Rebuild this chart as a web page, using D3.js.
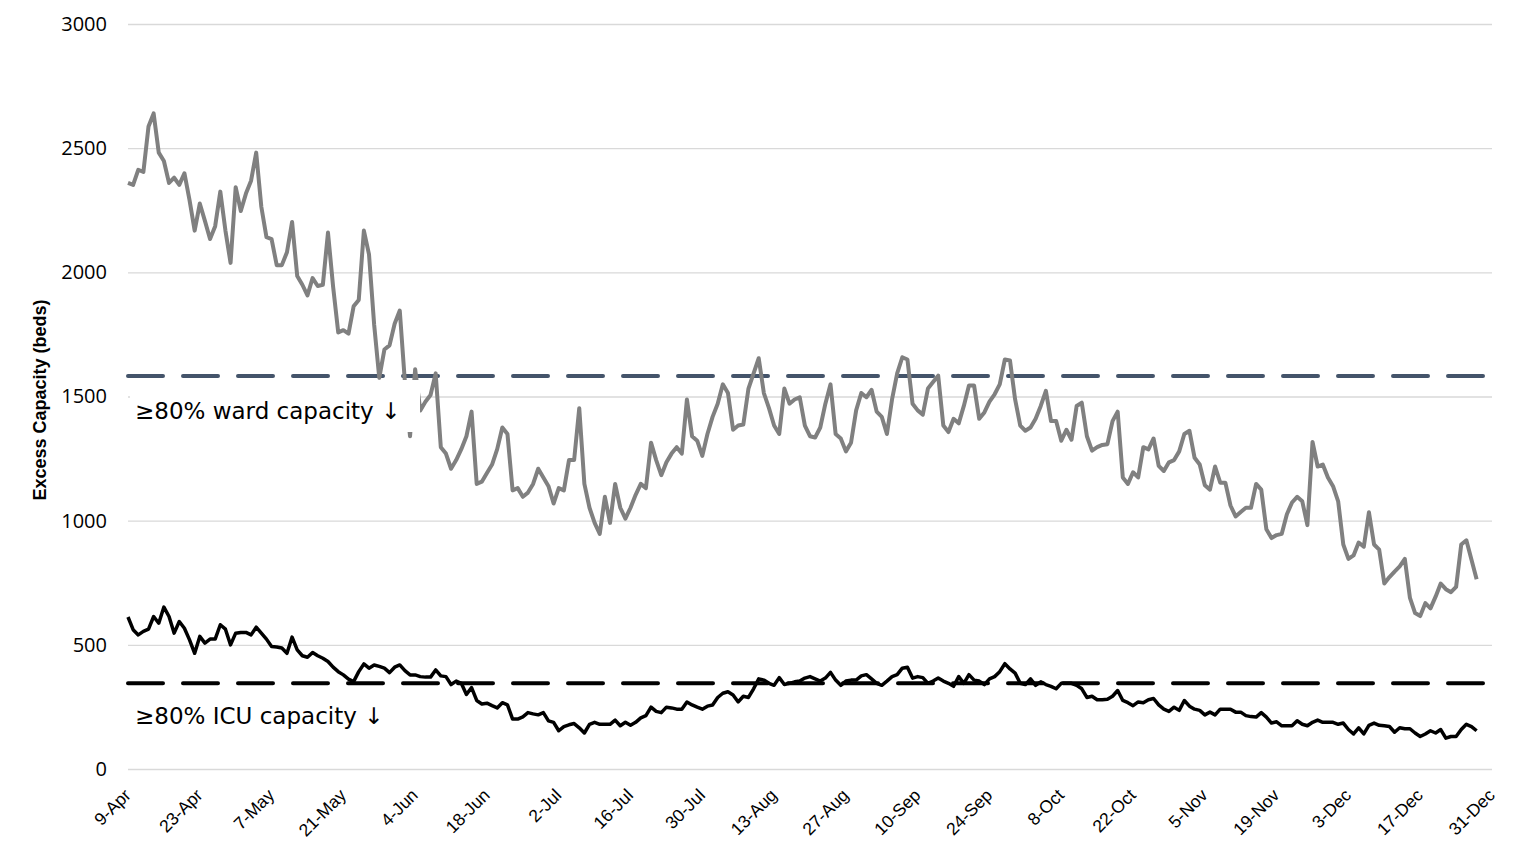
<!DOCTYPE html>
<meta charset="utf-8">
<script src="https://d3js.org/d3.v7.min.js"></script>
<style>
  body { margin: 0; background: #ffffff; }
</style>

<!-- Create a div where the graph will take place -->
<div id="my_dataviz"></div>

<script>

  // tick labels on the date axis (every 14 days)
  var tickLabels = ["9-Apr", "23-Apr", "7-May", "21-May", "4-Jun", "18-Jun", "2-Jul", "16-Jul",
    "30-Jul", "13-Aug", "27-Aug", "10-Sep", "24-Sep", "8-Oct", "22-Oct", "5-Nov", "19-Nov",
    "3-Dec", "17-Dec", "31-Dec"];
  var year = "2020";
  var firstDay = "9-Apr";
  var yTicks = [0, 500, 1000, 1500, 2000, 2500, 3000];

  // daily excess ward beds, starting 9-Apr
  var wardExcess = [
    2360, 2352, 2413, 2404, 2587, 2640, 2482, 2448, 2360, 2381,
    2352, 2399, 2291, 2168, 2277, 2207, 2134, 2186, 2325, 2168,
    2038, 2343, 2247, 2317, 2369, 2482, 2264, 2142, 2134, 2029,
    2029, 2081, 2203, 1985, 1950, 1907, 1977, 1945, 1950, 2160,
    1942, 1758, 1767, 1753, 1863, 1889, 2168, 2072, 1790, 1575,
    1689, 1706, 1793, 1846, 1558, 1340, 1610, 1444, 1479, 1506,
    1593, 1296, 1270, 1209, 1244, 1288, 1340, 1439, 1148, 1157,
    1192, 1226, 1288, 1375, 1349, 1122, 1131, 1096, 1113, 1148,
    1209, 1174, 1139, 1069, 1131, 1122, 1244, 1244, 1453, 1148,
    1052, 991, 947, 1096, 991, 1148, 1052, 1008, 1052, 1104,
    1148, 1131, 1314, 1244, 1183, 1235, 1270, 1296, 1270, 1488,
    1340, 1322, 1261, 1349, 1418, 1471, 1549, 1514, 1366, 1383,
    1387, 1532, 1593, 1654, 1514, 1453, 1383, 1349, 1532, 1471,
    1488, 1497, 1383, 1340, 1335, 1375, 1471, 1549, 1349, 1331,
    1279, 1314, 1444, 1514, 1497, 1527, 1439, 1418, 1349, 1488,
    1593, 1658, 1649, 1471, 1444, 1427, 1532, 1558, 1584, 1383,
    1357, 1410, 1392, 1462, 1544, 1544, 1410, 1436, 1479, 1509,
    1549, 1649, 1645, 1488, 1383, 1362, 1375, 1410, 1462, 1523,
    1401, 1401, 1322, 1366, 1326, 1462, 1475, 1340, 1282, 1296,
    1305, 1308, 1401, 1439, 1174, 1148, 1195, 1174, 1296, 1287,
    1331, 1221, 1200, 1235, 1244, 1279, 1349, 1362, 1253, 1226,
    1143, 1125, 1218, 1153, 1153, 1061, 1017, 1035, 1052, 1052,
    1148, 1125, 965, 930, 942, 947, 1026, 1073, 1096, 1078,
    982, 1317, 1218, 1226, 1174, 1139, 1078, 904, 846, 860,
    912, 895, 1034, 904, 883, 747, 773, 795, 816, 846,
    689, 628, 616, 668, 647, 694, 747, 724, 712, 733,
    904, 921, 843, 764
  ];

  // daily excess ICU beds, starting 9-Apr
  var icuExcess = [
    612, 561, 540, 554, 563, 614, 587, 652, 614, 547,
    594, 567, 520, 466, 534, 507, 523, 523, 581, 563,
    500, 547, 550, 550, 540, 571, 547, 523, 493, 491,
    487, 466, 531, 480, 456, 450, 469, 456, 446, 433,
    410, 392, 379, 362, 352, 392, 423, 406, 419, 413,
    406, 388, 410, 419, 396, 379, 379, 372, 370, 370,
    399, 375, 372, 340, 354, 345, 300, 328, 276, 262,
    265, 255, 246, 267, 258, 201, 201, 210, 227, 222,
    218, 227, 194, 188, 154, 171, 178, 183, 166, 145,
    180, 188, 180, 180, 180, 197, 174, 188, 176, 188,
    206, 215, 249, 232, 227, 249, 246, 241, 241, 270,
    258, 249, 241, 253, 258, 288, 305, 311, 298, 270,
    293, 288, 323, 363, 358, 345, 337, 368, 340, 345,
    351, 354, 366, 372, 363, 354, 366, 389, 358, 337,
    354, 358, 358, 375, 380, 363, 345, 337, 354, 372,
    380, 406, 410, 366, 372, 368, 345, 354, 366, 354,
    345, 333, 372, 345, 380, 358, 354, 340, 363, 372,
    392, 424, 403, 386, 345, 340, 363, 337, 351, 340,
    333, 323, 345, 345, 345, 337, 323, 288, 293, 279,
    279, 281, 293, 316, 276, 267, 255, 270, 267, 279,
    284, 258, 241, 232, 249, 236, 276, 253, 241, 236,
    218, 229, 218, 241, 241, 241, 229, 229, 215, 211,
    209, 227, 209, 185, 190, 174, 174, 174, 194, 180,
    174, 188, 197, 188, 188, 188, 180, 185, 159, 141,
    166, 141, 176, 185, 176, 174, 171, 148, 166, 162,
    162, 145, 131, 141, 154, 145, 159, 124, 131, 131,
    159, 180, 171, 154
  ];

  // 80% occupancy thresholds
  var wardThreshold = 1583;
  var icuThreshold = 345;
  var wardNote = "\u226580% ward capacity \u2193";
  var icuNote = "\u226580% ICU capacity \u2193";

  // set the dimensions and margins of the graph
  var W = 1532, H = 867;
  var margin = { top: 24, right: 40, bottom: 98, left: 128 },
    width = W - margin.left - margin.right,
    height = H - margin.top - margin.bottom;

  var svg = d3.select("#my_dataviz")
    .append("svg")
    .attr("width", W)
    .attr("height", H)
    .append("g")
    .attr("transform", "translate(" + margin.left + "," + margin.top + ")");

  var parse = d3.timeParse("%d-%b-%Y");
  var start = parse(firstDay + "-" + year);
  var tickDates = tickLabels.map(function (l) { return parse(l + "-" + year); });

  var x = d3.scaleTime()
    .domain([tickDates[0], tickDates[tickDates.length - 1]])
    .range([0, width]);
  var y = d3.scaleLinear().domain([0, 3000]).range([height, 0]);

  // gridlines + y labels
  var yAxis = svg.append("g")
    .call(d3.axisLeft(y).tickValues(yTicks).tickSize(-width).tickPadding(21)
      .tickFormat(d3.format("d")));
  yAxis.select(".domain").remove();
  yAxis.selectAll("line").attr("stroke", "#d9d9d9").attr("stroke-width", 1.3);
  yAxis.selectAll("text")
    .attr("fill", "#000")
    .style("font-family", "Open Sans, DejaVu Sans, sans-serif")
    .style("font-size", "20px");

  // x axis with rotated labels
  var xAxis = svg.append("g")
    .attr("transform", "translate(0," + height + ")")
    .call(d3.axisBottom(x).tickValues(tickDates).tickSize(0)
      .tickFormat(function (d, i) { return tickLabels[i]; }));
  xAxis.select(".domain").remove();
  xAxis.selectAll("text")
    .attr("fill", "#000")
    .attr("y", 0).attr("dy", "0.35em")
    .attr("text-anchor", "end")
    .attr("transform", "translate(-1,23) rotate(-45)")
    .style("font-family", "Liberation Sans, Arial, sans-serif")
    .style("font-size", "17.5px");

  // y axis title
  svg.append("text")
    .attr("transform", "translate(" + (46 - margin.left) + "," + (400 - margin.top) + ") rotate(-90)")
    .attr("text-anchor", "middle")
    .style("font-family", "Liberation Sans, Arial, sans-serif")
    .style("font-weight", "bold")
    .style("font-size", "18px")
    .text("Excess Capacity (beds)");

  // threshold lines
  function threshold(v, color) {
    svg.append("line")
      .attr("x1", 0).attr("x2", width)
      .attr("y1", y(v)).attr("y2", y(v))
      .attr("stroke", color)
      .attr("stroke-width", 4)
      .attr("stroke-linecap", "round")
      .attr("stroke-dasharray", "35 20");
  }
  threshold(wardThreshold, "#44546a");
  threshold(icuThreshold, "#000000");

  var line = d3.line()
    .x(function (d, i) { return x(d3.timeDay.offset(start, i)); })
    .y(function (d) { return y(d); });

  svg.append("path")
    .datum(icuExcess)
    .attr("d", line)
    .attr("fill", "none")
    .attr("stroke", "#000000")
    .attr("stroke-width", 3.5)
    .attr("stroke-linejoin", "round");

  svg.append("path")
    .datum(wardExcess)
    .attr("d", line)
    .attr("fill", "none")
    .attr("stroke", "#808080")
    .attr("stroke-width", 4)
    .attr("stroke-linejoin", "round");

  // annotation text boxes (white fill)
  function note(txt, yTop, boxW, baseline) {
    svg.append("rect")
      .attr("x", 2).attr("y", yTop - margin.top)
      .attr("width", boxW).attr("height", 52)
      .attr("fill", "#ffffff");
    svg.append("text")
      .attr("x", 7).attr("y", baseline - margin.top)
      .style("font-family", "DejaVu Sans, Verdana, sans-serif")
      .style("font-size", "23px")
      .attr("fill", "#000")
      .text(txt);
  }
  note(wardNote, 380, 290, 419);
  note(icuNote, 690, 270, 724);

</script>
